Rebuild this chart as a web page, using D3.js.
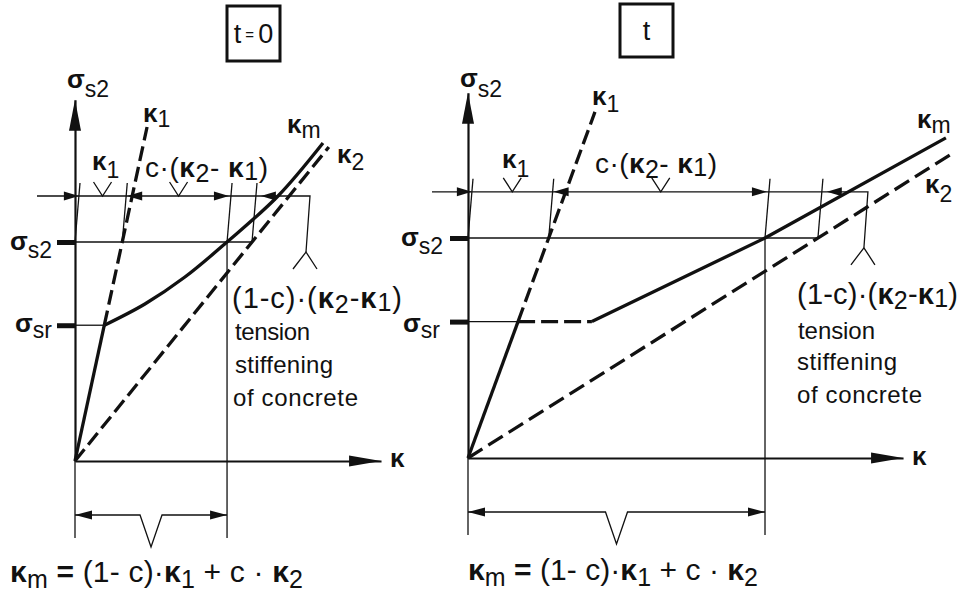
<!DOCTYPE html>
<html>
<head>
<meta charset="utf-8">
<script src="https://cdn.jsdelivr.net/npm/d3@7"></script>
<style>
  html, body { margin: 0; padding: 0; background: #fff; }
  svg { display: block; }
  text { font-family: "Liberation Sans", Arial, Helvetica, sans-serif; fill: #111; }
</style>
</head>
<body>
<svg id="chart" width="965" height="593"></svg>
<script>
// ---- Values (σ in units of σs2, κ in units of κ2 at σs2 for t = 0) ----
const panelTitles   = ["t=0", "t"];
const sigmaLevels   = [0.62, 1.0];          // σsr, σs2
const sigmaDim      = 1.21;                 // level of the upper dimension chain
const sigmaAxisMax  = [1.65, 1.66];
const kappaAxisMax  = [1.729, 2.458];
const kappa1Slope   = [0.267, 0.456];       // κ1 per unit σ (uncracked state)
const kappa2Slope   = [1.0, 1.977];         // κ2 per unit σ (fully cracked state)
const kappa1Top     = [1.525, 1.573];       // σ at the upper end of the κ1 line
const kappa2Top     = [1.434, 1.377];       // σ at the upper end of the κ2 line
// mean curvature κm: [κ, σ]
const kappaM_t0 = [[0.166, 0.62], [0.395, 0.717], [0.621, 0.84], [0.859, 1.0], [1.147, 1.21], [1.401, 1.452]];
const kappaM_t  = [[0.283, 0.62], [0.70, 0.62], [1.678, 1.0], [2.70, 1.455]];
const kappaM    = [kappaM_t0, kappaM_t];
const kappaMDashedUpTo = [0, 1];            // index of the last point of the dashed plateau

// ---- Layout ----
const layout = [
  { x0: 75,  y0: 461, kx: 177, sy: 219, box: [227, 6, 53, 55], dimStart: 37,  forkOff: 58, botDim: 54 },
  { x0: 468, y0: 458, kx: 177, sy: 220, box: [620, 4, 53, 53], dimStart: 432, forkOff: 50, botDim: 54 }
];

const labels = [
  [
    { x: 67,  y: 88,  parts: [["σ", "b"], ["s2", "s", 9]] },
    { x: 10,  y: 250, parts: [["σ", "b"], ["s2", "s", 8]] },
    { x: 15,  y: 332, parts: [["σ", "b"], ["sr", "s", 6]] },
    { x: 143, y: 122, parts: [["κ", "b"], ["1", "s", 5]] },
    { x: 287, y: 133, parts: [["κ", "b"], ["m", "s", 5]] },
    { x: 337, y: 163, parts: [["κ", "b"], ["2", "s", 7]] },
    { x: 92,  y: 170, parts: [["κ", "b"], ["1", "s", 8]] },
    { x: 145, y: 177, w: 123, size: 28, parts: [["c·(", "n"], ["κ", "b"], ["2", "s", 5], ["- ", "n"], ["κ", "b"], ["1", "s", 3], [")", "n"]] },
    { x: 390, y: 467, parts: [["κ", "b"]] },
    { x: 232, y: 308, w: 170, size: 29, parts: [["(1-c)·(", "n"], ["κ", "b"], ["2", "s", 5], ["-", "n"], ["κ", "b"], ["1", "s", 3], [")", "n"]] },
    { x: 235, y: 340, w: 75,  size: 24, parts: [["tension", "n"]] },
    { x: 235, y: 373, w: 98,  size: 24, parts: [["stiffening", "n"]] },
    { x: 233, y: 406, w: 125, size: 24, parts: [["of concrete", "n"]] },
    { x: 10,  y: 582, w: 293, size: 30, parts: [["κ", "b"], ["m", "s", 6], [" = ", "b"], ["(1- c)·", "n"], ["κ", "b"], ["1", "s", 6], [" + c · ", "n"], ["κ", "b"], ["2", "s", 6]] }
  ],
  [
    { x: 460, y: 87,  parts: [["σ", "b"], ["s2", "s", 10]] },
    { x: 401, y: 246, parts: [["σ", "b"], ["s2", "s", 8]] },
    { x: 403, y: 332, parts: [["σ", "b"], ["sr", "s", 6]] },
    { x: 592, y: 105, parts: [["κ", "b"], ["1", "s", 7]] },
    { x: 917, y: 128, parts: [["κ", "b"], ["m", "s", 5]] },
    { x: 925, y: 193, parts: [["κ", "b"], ["2", "s", 9]] },
    { x: 502, y: 168, parts: [["κ", "b"], ["1", "s", 9]] },
    { x: 595, y: 173, w: 122, size: 28, parts: [["c·(", "n"], ["κ", "b"], ["2", "s", 5], ["- ", "n"], ["κ", "b"], ["1", "s", 3], [")", "n"]] },
    { x: 912, y: 465, parts: [["κ", "b"]] },
    { x: 797, y: 304, w: 161, size: 29, parts: [["(1-c)·(", "n"], ["κ", "b"], ["2", "s", 5], ["-", "n"], ["κ", "b"], ["1", "s", 3], [")", "n"]] },
    { x: 798, y: 339, w: 77,  size: 24, parts: [["tension", "n"]] },
    { x: 797, y: 370, w: 100, size: 24, parts: [["stiffening", "n"]] },
    { x: 797, y: 403, w: 125, size: 24, parts: [["of concrete", "n"]] },
    { x: 468, y: 580, w: 290, size: 30, parts: [["κ", "b"], ["m", "s", 6], [" = ", "b"], ["(1- c)·", "n"], ["κ", "b"], ["1", "s", 6], [" + c · ", "n"], ["κ", "b"], ["2", "s", 6]] }
  ]
];

// ---- Drawing ----
const svg = d3.select("#chart");
const INK = "#111";
const THIN = 1.3, AXIS = 2.2, THICK = 3.3;

function arrowHead(g, tipX, tipY, dir, len = 15, half = 4) {
  // dir: "r", "l", "u"
  let pts;
  if (dir === "r") pts = [[tipX, tipY], [tipX - len, tipY - half], [tipX - len, tipY + half]];
  else if (dir === "l") pts = [[tipX, tipY], [tipX + len, tipY - half], [tipX + len, tipY + half]];
  else pts = [[tipX, tipY], [tipX - half, tipY + len], [tipX + half, tipY + len]];
  g.append("polygon").attr("points", pts.map(p => p.join(",")).join(" ")).attr("fill", INK);
}

function seg(g, x1, y1, x2, y2, w = THIN, dash = null) {
  const l = g.append("line").attr("x1", x1).attr("y1", y1).attr("x2", x2).attr("y2", y2)
    .attr("stroke", INK).attr("stroke-width", w).attr("stroke-linecap", "butt");
  if (dash) l.attr("stroke-dasharray", dash);
  return l;
}

function richText(g, d) {
  const size = d.size || 26;
  const t = g.append("text").attr("x", d.x).attr("y", d.y).style("font-size", size + "px");
  d.parts.forEach(([str, kind, dy]) => {
    const s = t.append("tspan").text(str).attr("y", d.y + (kind === "s" ? dy : 0));
    if (kind === "b") s.style("font-weight", "bold");
    if (kind === "s") s.style("font-size", Math.min(size - 3, 25) + "px");
  });
  if (d.w) t.attr("textLength", d.w).attr("lengthAdjust", "spacing");
}

panelTitles.forEach((title, i) => {
  const L = layout[i];
  const g = svg.append("g");
  const x = d3.scaleLinear().domain([0, kappaAxisMax[i]]).range([L.x0, L.x0 + L.kx * kappaAxisMax[i]]);
  const y = d3.scaleLinear().domain([0, sigmaAxisMax[i]]).range([L.y0, L.y0 - L.sy * sigmaAxisMax[i]]);
  const [sSr, sS2] = sigmaLevels;

  const k1 = s => kappa1Slope[i] * s;
  const k2 = s => kappa2Slope[i] * s;
  const mPts = kappaM[i];
  // κm at σs2
  const kmS2 = mPts.find(p => p[1] === sS2)[0];

  // title box
  const [bx, by, bw, bh] = L.box;
  g.append("rect").attr("x", bx).attr("y", by).attr("width", bw).attr("height", bh)
    .attr("fill", "none").attr("stroke", INK).attr("stroke-width", 3);
  const tt = g.append("text").attr("x", bx + bw / 2).attr("y", by + bh / 2 + 9)
    .attr("text-anchor", "middle").style("font-size", "27px");
  if (title === "t=0") {
    tt.append("tspan").text("t");
    tt.append("tspan").text(" = ").style("font-size", "15px").attr("dy", -3);
    tt.append("tspan").text("0").attr("dy", 3);
  } else {
    tt.text(title);
  }

  // thin horizontal reference lines
  seg(g, x(0), y(sS2), x(k2(sS2)), y(sS2));
  seg(g, x(0), y(sSr), x(k1(sSr)), y(sSr));

  // extension lines up to the dimension chain
  const yDim = y(sigmaDim);
  const yExtTop = yDim - 13;
  const lean = 5;
  const extK = [0, k1(sS2), kmS2, k2(sS2)];
  const extAtDim = extK.map(k => x(k) + lean * (y(sS2) - yDim) / (y(sS2) - yExtTop));
  extK.forEach(k => seg(g, x(k), y(sS2), x(k) + lean, yExtTop));

  // lower extension lines and the κm dimension
  const yBotExt = L.y0 + 77;
  const yBot = L.y0 + L.botDim;
  seg(g, x(0), L.y0, x(0), yBotExt);
  seg(g, x(kmS2), y(sS2), x(kmS2), yBotExt);
  const bMid = (x(0) + x(kmS2)) / 2;
  g.append("path")
    .attr("d", d3.line()([[x(0), yBot], [bMid - 11, yBot], [bMid, yBot + 32], [bMid + 11, yBot], [x(kmS2), yBot]]))
    .attr("fill", "none").attr("stroke", INK).attr("stroke-width", THIN);
  arrowHead(g, x(0), yBot, "l", 17, 4.5);
  arrowHead(g, x(kmS2), yBot, "r", 17, 4.5);

  // upper dimension chain
  const forkX = x(k2(sS2)) + L.forkOff;
  g.append("path")
    .attr("d", d3.line()([[L.dimStart, yDim], [forkX, yDim], [forkX - 4, yDim + 56]]))
    .attr("fill", "none").attr("stroke", INK).attr("stroke-width", THIN);
  g.append("path")
    .attr("d", d3.line()([[forkX - 17, yDim + 73], [forkX - 4, yDim + 56], [forkX + 7, yDim + 73]]))
    .attr("fill", "none").attr("stroke", INK).attr("stroke-width", THIN);
  arrowHead(g, extAtDim[0], yDim, "r", 15, 4.5);
  arrowHead(g, extAtDim[1] + 1, yDim, "l", 15, 4.5);
  arrowHead(g, extAtDim[2] - 2, yDim, "r", 15, 4.5);
  arrowHead(g, extAtDim[3] + 5, yDim, "l", 15, 4.5);
  // brace marks over κ1 and c·(κ2-κ1)
  [[extAtDim[0], extAtDim[1]], [extAtDim[1], extAtDim[2]]].forEach(([a, b]) => {
    const m = (a + b) / 2;
    g.append("path").attr("d", d3.line()([[m - 9, yDim - 14], [m, yDim], [m + 9, yDim - 14]]))
      .attr("fill", "none").attr("stroke", INK).attr("stroke-width", THIN);
  });

  // axes
  const xAxis = d3.axisBottom(x).tickValues([]).tickSizeOuter(0);
  const gx = g.append("g").attr("transform", `translate(0,${L.y0})`).call(xAxis);
  gx.select(".domain").attr("stroke", INK).attr("stroke-width", AXIS);
  arrowHead(g, x(kappaAxisMax[i]), L.y0, "r", 32, 5.5);

  const yAxis = d3.axisLeft(y).tickValues(sigmaLevels).tickSize(18).tickFormat("").tickSizeOuter(0);
  const gy = g.append("g").attr("transform", `translate(${L.x0},0)`).call(yAxis);
  gy.select(".domain").attr("stroke", INK).attr("stroke-width", AXIS);
  gy.selectAll(".tick line").attr("stroke", INK).attr("stroke-width", 5);
  arrowHead(g, L.x0, y(sigmaAxisMax[i]), "u", 31, 6);

  // κ1: solid up to σsr, dashed above
  seg(g, x(0), y(0), x(k1(sSr)), y(sSr), THICK);
  seg(g, x(k1(sSr)), y(sSr), x(k1(kappa1Top[i])), y(kappa1Top[i]), THICK, "15,6");
  // κ2: dashed
  seg(g, x(0), y(0), x(k2(kappa2Top[i])), y(kappa2Top[i]), THICK, i === 0 ? "15,6" : "17,7");

  // κm
  const line = d3.line().x(d => x(d[0])).y(d => y(d[1]));
  const cut = kappaMDashedUpTo[i];
  if (cut > 0) {
    g.append("path").attr("d", line(mPts.slice(0, cut + 1)))
      .attr("fill", "none").attr("stroke", INK).attr("stroke-width", THICK).attr("stroke-dasharray", "17,6");
  }
  g.append("path").attr("d", line.curve(i === 0 ? d3.curveCatmullRom : d3.curveLinear)(mPts.slice(cut)))
    .attr("fill", "none").attr("stroke", INK).attr("stroke-width", THICK).attr("stroke-linejoin", "round");

  // text
  labels[i].forEach(d => richText(g, d));
});
</script>
</body>
</html>
